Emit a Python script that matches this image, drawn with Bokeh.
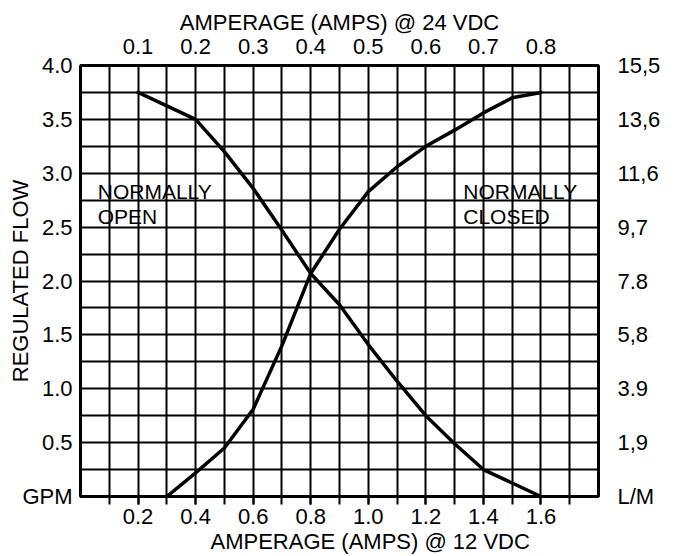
from bokeh.plotting import figure
from bokeh.models import Range1d, LinearAxis, FixedTicker, Title
from bokeh.core.properties import value
from bokeh.embed import file_html
from bokeh.resources import INLINE

# ---- data ----
no_amps = [0.2, 0.3, 0.4, 0.5, 0.6, 0.7, 0.8, 0.9, 1.0, 1.1, 1.2, 1.3, 1.4, 1.5, 1.6]
no_flow = [3.75, 3.625, 3.5, 3.2, 2.86, 2.47, 2.07, 1.78, 1.41, 1.07, 0.75, 0.49, 0.25, 0.125, 0.0]

nc_amps = [0.3, 0.4, 0.5, 0.6, 0.7, 0.8, 0.9, 1.0, 1.1, 1.2, 1.3, 1.4, 1.5, 1.6]
nc_flow = [0.0, 0.22, 0.45, 0.81, 1.40, 2.07, 2.48, 2.83, 3.06, 3.25, 3.40, 3.56, 3.70, 3.75]

gpm_ticks = [0.0, 0.5, 1.0, 1.5, 2.0, 2.5, 3.0, 3.5, 4.0]
gpm_labels = ["GPM", "0.5", "1.0", "1.5", "2.0", "2.5", "3.0", "3.5", "4.0"]
lpm_labels = ["L/M", "1,9", "3.9", "5,8", "7.8", "9,7", "11,6", "13,6", "15,5"]
gpm_grid = [0.25, 0.5, 0.75, 1.0, 1.25, 1.5, 1.75, 2.0, 2.25, 2.5, 2.75, 3.0, 3.25, 3.5, 3.75]

amps12_ticks = [0.2, 0.4, 0.6, 0.8, 1.0, 1.2, 1.4, 1.6]
amps12_labels = ["0.2", "0.4", "0.6", "0.8", "1.0", "1.2", "1.4", "1.6"]
amps12_grid = [0.1, 0.2, 0.3, 0.4, 0.5, 0.6, 0.7, 0.8, 0.9, 1.0, 1.1, 1.2, 1.3, 1.4, 1.5, 1.6, 1.7]
amps24_ticks = [0.1, 0.2, 0.3, 0.4, 0.5, 0.6, 0.7, 0.8]
amps24_labels = ["0.1", "0.2", "0.3", "0.4", "0.5", "0.6", "0.7", "0.8"]

note_x = [0.06, 0.06, 1.33, 1.33]
note_y = [2.83, 2.6, 2.83, 2.6]
note_text = ["NORMALLY", "OPEN", "NORMALLY", "CLOSED"]

FONT = "Liberation Sans"

p = figure(width=685, height=556, output_backend="svg", toolbar_location=None,
           x_range=Range1d(0, 1.8), y_range=Range1d(0, 4.0),
           x_axis_location=None, y_axis_location=None,
           min_border_left=80, min_border_right=87, min_border_top=65, min_border_bottom=60)
p.background_fill_color = "white"
p.border_fill_color = "white"
p.outline_line_color = "black"
p.outline_line_width = 3
p.extra_x_ranges = {"amps24": Range1d(0, 0.9)}

def style_axis(ax, standoff):
    ax.axis_line_color = None
    ax.major_tick_line_color = "black"
    ax.major_tick_line_width = 2
    ax.minor_tick_line_color = "black"
    ax.minor_tick_line_width = 2
    ax.major_tick_in = 0
    ax.minor_tick_in = 0
    ax.major_tick_out = 0
    ax.minor_tick_out = 0
    ax.major_label_text_font = FONT
    ax.major_label_text_font_size = "22px"
    ax.major_label_text_color = "black"
    ax.major_label_standoff = standoff
    ax.axis_label_text_font = FONT
    ax.axis_label_text_font_size = "22px"
    ax.axis_label_text_font_style = "normal"
    ax.axis_label_text_color = "black"

# bottom axis (12 VDC)
bottom = LinearAxis(ticker=FixedTicker(ticks=amps12_ticks, minor_ticks=amps12_grid))
style_axis(bottom, 4)
bottom.major_tick_out = 8
bottom.minor_tick_out = 8
bottom.major_label_overrides = dict(zip(amps12_ticks, amps12_labels))
p.add_layout(bottom, "below")

# bottom title (shifted right like the reference)
p.add_layout(Title(text="AMPERAGE (AMPS) @ 12 VDC", align="left", offset=130, standoff=0,
                   text_font=FONT, text_font_size="22px", text_font_style="normal",
                   text_color="black"), "below")

# top axis (24 VDC)
top = LinearAxis(x_range_name="amps24", ticker=FixedTicker(ticks=amps24_ticks),
                 axis_label="AMPERAGE (AMPS) @ 24 VDC")
style_axis(top, 12)
top.axis_label_standoff = 1
top.major_label_overrides = dict(zip(amps24_ticks, amps24_labels))
p.add_layout(top, "above")

# left axis (GPM)
left = LinearAxis(ticker=FixedTicker(ticks=gpm_ticks), axis_label="REGULATED FLOW")
style_axis(left, 8)
left.axis_label_standoff = -14
left.major_label_overrides = dict(zip(gpm_ticks, gpm_labels))
p.add_layout(left, "left")

# right axis (L/M)
right = LinearAxis(ticker=FixedTicker(ticks=gpm_ticks))
style_axis(right, 19)
right.major_label_overrides = dict(zip(gpm_ticks, lpm_labels))
p.add_layout(right, "right")

# grids
p.xgrid.ticker = FixedTicker(ticks=amps12_grid)
p.ygrid.ticker = FixedTicker(ticks=gpm_grid)
for g in (p.xgrid, p.ygrid):
    g.grid_line_color = "black"
    g.grid_line_width = 2
    g.grid_line_alpha = 1.0

# curves
p.line(no_amps, no_flow, line_color="black", line_width=3.5, line_join="round", line_cap="round")
p.line(nc_amps, nc_flow, line_color="black", line_width=3.5, line_join="round", line_cap="round")

# in-plot notes
p.text(x=note_x, y=note_y, text=note_text, text_font=value(FONT), text_font_size="21px",
       text_color="black", text_align="left", text_baseline="alphabetic")

open("out.html", "w").write(file_html(p, INLINE))
